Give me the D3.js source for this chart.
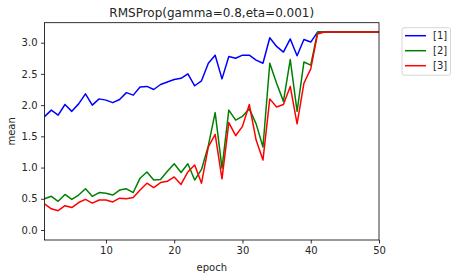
<!DOCTYPE html>
<html>
<head>
<meta charset="utf-8">
<script src="https://cdn.jsdelivr.net/npm/d3@7"></script>
<style>
  body { margin: 0; background: #fff; }
  text { font-family: "DejaVu Sans", sans-serif; fill: #262626; }
</style>
</head>
<body>
<div id="chart"></div>
<script>
// values, epochs 1..50
var epochs = d3.range(1, 51)
var seriesNames = ["[1]", "[2]", "[3]"]
var seriesColors = ["#0000ff", "#008000", "#ff0000"]

var flat = 3.17
var blue = [1.815,1.92,1.84,2.01,1.90,2.02,2.18,2.00,2.10,2.08,
            2.04,2.09,2.20,2.16,2.29,2.30,2.25,2.33,2.37,2.41,
            2.43,2.50,2.31,2.39,2.67,2.80,2.42,2.78,2.75,2.80,
            2.80,2.72,2.67,3.08,2.94,2.85,3.06,2.79,3.05,3.01,
            3.17,3.17,3.17,3.17,3.17,3.17,3.17,3.17,3.17,3.17]
var green = [0.50,0.54,0.46,0.57,0.49,0.56,0.66,0.54,0.60,0.59,
             0.56,0.64,0.66,0.60,0.83,0.93,0.80,0.81,0.94,1.06,
             0.92,1.06,0.80,0.97,1.35,1.88,0.99,1.92,1.76,1.82,
             1.94,1.70,1.33,2.67,2.35,2.06,2.73,1.90,2.69,2.64,
             3.17,3.17,3.17,3.17,3.17,3.17,3.17,3.17,3.17,3.17]
var red = [0.42,0.34,0.31,0.39,0.36,0.44,0.49,0.43,0.48,0.48,
           0.45,0.51,0.50,0.52,0.64,0.75,0.68,0.76,0.78,0.85,
           0.73,0.93,1.04,0.75,1.33,1.53,0.82,1.72,1.51,1.66,
           2.01,1.44,1.12,2.10,1.97,2.01,2.30,1.70,2.35,2.58,
           3.14,3.17,3.17,3.17,3.17,3.17,3.17,3.17,3.17,3.17]
var allSeries = [blue, green, red]

var xTicks = [10, 20, 30, 40, 50]
var yTicks = [0, 0.5, 1, 1.5, 2, 2.5, 3]

var width = 458, height = 278
var margin = {left: 44.5, right: 79, top: 22.7, bottom: 38}

var svg = d3.select("#chart")
    .append("svg")
    .attr("width", width)
    .attr("height", height)

var x = d3.scaleLinear()
    .domain([1, 50])
    .range([margin.left, width - margin.right])
var y = d3.scaleLinear()
    .domain([-0.16, 3.32])
    .range([height - margin.bottom, margin.top])

svg.append("clipPath")
    .attr("id", "clip")
    .append("rect")
    .attr("x", margin.left)
    .attr("y", margin.top)
    .attr("width", x(50) - margin.left)
    .attr("height", y.range()[0] - margin.top)

// lines
var line = d3.line()
    .x(function(d, i) { return x(epochs[i]) })
    .y(function(d) { return y(d) })

svg.append("g")
    .attr("clip-path", "url(#clip)")
    .selectAll("path")
    .data(allSeries)
    .enter().append("path")
    .attr("d", line)
    .attr("fill", "none")
    .attr("stroke", function(d, i) { return seriesColors[i] })
    .attr("stroke-width", 1.5)
    .attr("stroke-linejoin", "round")

// axes
var xAxis = svg.append("g")
    .attr("transform", `translate(0,${y.range()[0]})`)
    .call(d3.axisBottom(x).tickValues(xTicks).tickSize(3.5).tickPadding(3.5))
var yAxis = svg.append("g")
    .attr("transform", `translate(${margin.left},0)`)
    .call(d3.axisLeft(y).tickValues(yTicks).tickFormat(d3.format(".1f")).tickSize(3.5).tickPadding(3.5))
svg.selectAll(".domain").remove()
svg.selectAll(".tick line").attr("stroke", "#000").attr("stroke-width", 0.8)
svg.selectAll(".tick text").style("font-size", "10px").style("font-family", "DejaVu Sans").attr("fill", "#262626")

// frame
svg.append("rect")
    .attr("x", margin.left)
    .attr("y", margin.top)
    .attr("width", x(50) - margin.left)
    .attr("height", y.range()[0] - margin.top)
    .attr("fill", "none")
    .attr("stroke", "#000")
    .attr("stroke-width", 0.8)

// titles
svg.append("text")
    .attr("x", (margin.left + x(50)) / 2)
    .attr("y", 17)
    .attr("text-anchor", "middle")
    .style("font-size", "12px")
    .text("RMSProp(gamma=0.8,eta=0.001)")
svg.append("text")
    .attr("x", (margin.left + x(50)) / 2)
    .attr("y", 271)
    .attr("text-anchor", "middle")
    .style("font-size", "10px")
    .text("epoch")
svg.append("text")
    .attr("transform", `translate(15,${(margin.top + y.range()[0]) / 2}) rotate(-90)`)
    .attr("text-anchor", "middle")
    .style("font-size", "10px")
    .text("mean")

// legend
var legend = svg.append("g").attr("transform", "translate(402,27.7)")
legend.append("rect")
    .attr("width", 48.5)
    .attr("height", 47.5)
    .attr("rx", 2)
    .attr("fill", "#fff")
    .attr("stroke", "#ccc")
    .attr("stroke-width", 0.8)
seriesNames.forEach(function(name, i) {
    legend.append("line")
        .attr("x1", 3).attr("x2", 24)
        .attr("y1", 8 + i * 15).attr("y2", 8 + i * 15)
        .attr("stroke", seriesColors[i])
        .attr("stroke-width", 1.5)
    legend.append("text")
        .attr("x", 31)
        .attr("y", 8 + i * 15)
        .attr("dy", "0.35em")
        .style("font-size", "10px")
        .text(name)
})
</script>
</body>
</html>
